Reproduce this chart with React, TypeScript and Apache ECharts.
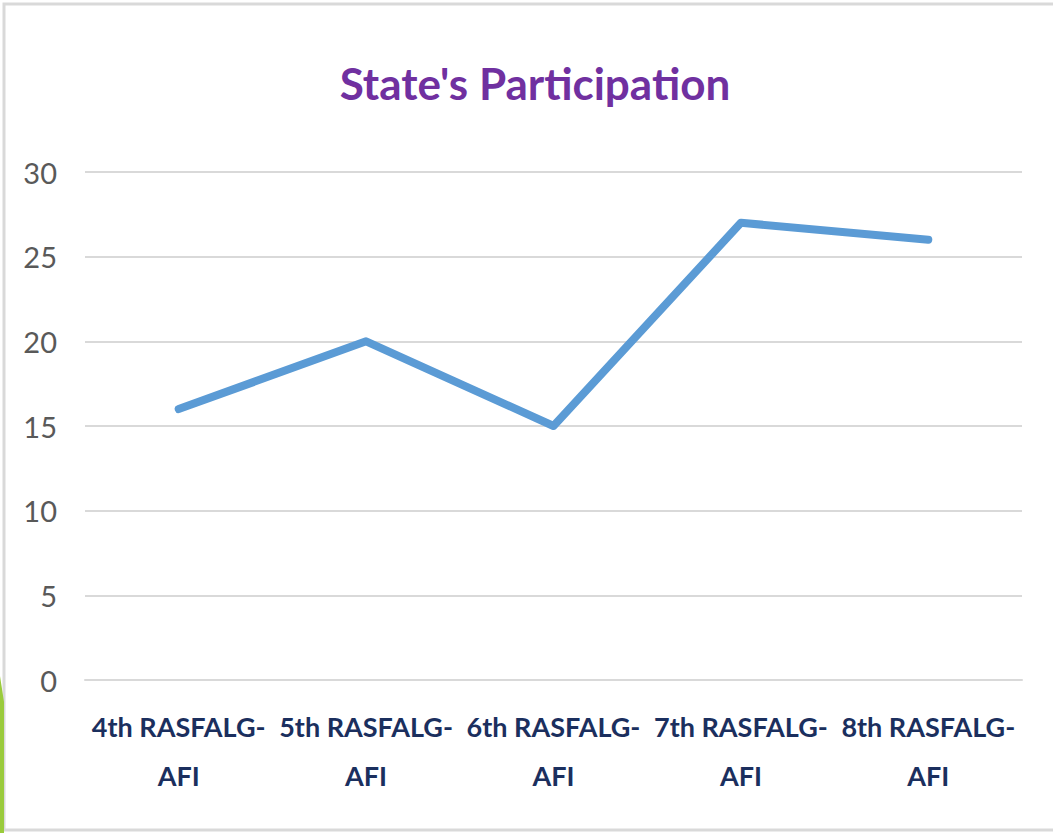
import React, { useEffect, useRef } from "react";
import * as echarts from "echarts";

const categories = [
  "4th RASFALG-\nAFI",
  "5th RASFALG-\nAFI",
  "6th RASFALG-\nAFI",
  "7th RASFALG-\nAFI",
  "8th RASFALG-\nAFI",
];
const participation = [16, 20, 15, 27, 26];
const yTicks = { min: 0, max: 30, interval: 5 };

const FONT = "Lato, 'Open Sans', sans-serif";

export default function App() {
  const ref = useRef<HTMLDivElement>(null);
  useEffect(() => {
    if (!ref.current) return;
    const chart = echarts.init(ref.current, undefined, { renderer: "svg" });
    chart.setOption({
      animation: false,
      backgroundColor: "#ffffff",
      title: {
        text: "State's Participation",
        left: 530,
        textAlign: "center",
        top: 56,
        textStyle: {
          color: "#7030a0",
          fontFamily: FONT,
          fontWeight: "bold",
          fontSize: 44,
        },
      },
      graphic: [
        {
          type: "rect",
          shape: { x: 4, y: 4, width: 1080, height: 826 },
          style: { fill: "none", stroke: "#d9d9d9", lineWidth: 3 },
          silent: true,
        },
        {
          type: "polygon",
          shape: { points: [[0, 676], [4, 702], [4, 833], [0, 833]] },
          style: { fill: "#9acb3c" },
          silent: true,
        },
      ],
      grid: { left: 85, right: 31, top: 172, bottom: 153, containLabel: false },
      xAxis: {
        type: "category",
        data: categories,
        boundaryGap: true,
        axisLine: { show: true, lineStyle: { color: "#d9d9d9", width: 2 } },
        axisTick: { show: false },
        axisLabel: {
          interval: 0,
          margin: 22,
          color: "#1b2f5e",
          fontFamily: FONT,
          fontWeight: "bold",
          fontSize: 27,
          lineHeight: 49,
        },
      },
      yAxis: {
        type: "value",
        min: yTicks.min,
        max: yTicks.max,
        interval: yTicks.interval,
        axisLine: { show: false },
        axisTick: { show: false },
        splitLine: { lineStyle: { color: "#d9d9d9", width: 2 } },
        axisLabel: {
          margin: 28,
          color: "#595959",
          fontFamily: FONT,
          fontSize: 29,
        },
      },
      series: [
        {
          type: "line",
          data: participation,
          symbol: "none",
          lineStyle: { color: "#5b9bd5", width: 8, cap: "round", join: "round" },
        },
      ],
    });
    return () => chart.dispose();
  }, []);
  return (
    <div
      ref={ref}
      style={{ position: "absolute", left: 0, top: 0, width: 1053, height: 833 }}
    />
  );
}
